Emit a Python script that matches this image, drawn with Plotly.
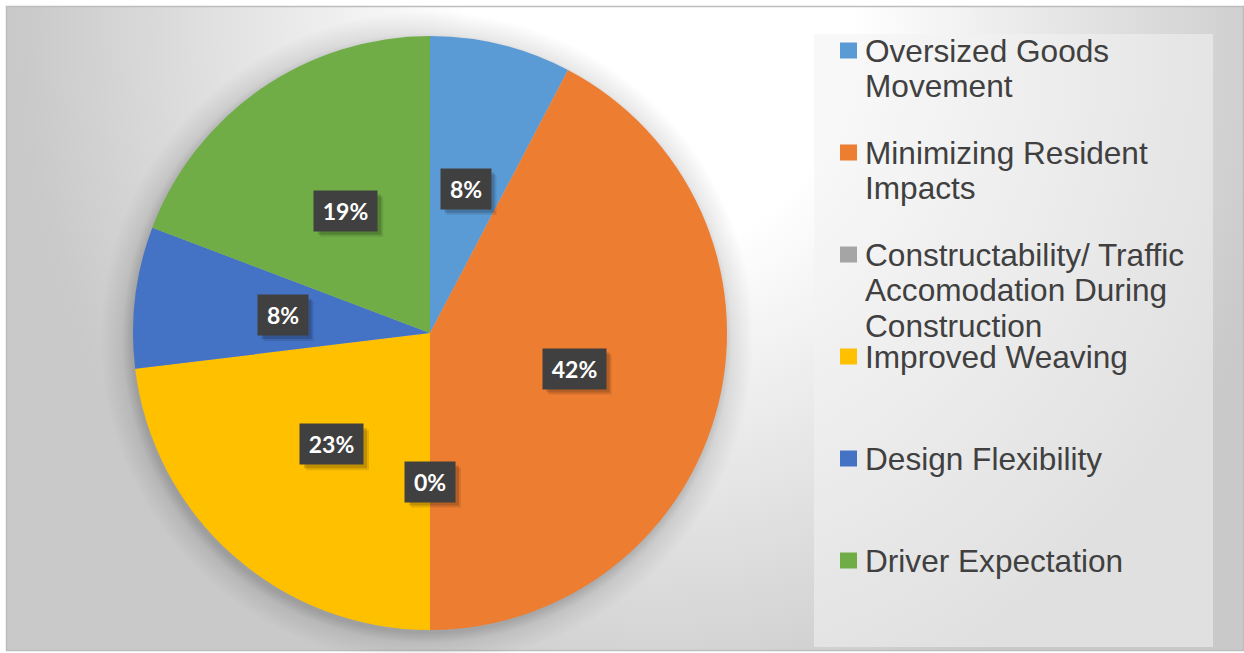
import base64
import math
import plotly.graph_objects as go

# ---------------- data ----------------
categories = [
    "Oversized Goods Movement",
    "Minimizing Resident Impacts",
    "Constructability/ Traffic Accomodation During Construction",
    "Improved Weaving",
    "Design Flexibility",
    "Driver Expectation",
]
legend_lines = [
    ["Oversized Goods", "Movement"],
    ["Minimizing Resident", "Impacts"],
    ["Constructability/ Traffic", "Accomodation During", "Construction"],
    ["Improved Weaving"],
    ["Design Flexibility"],
    ["Driver Expectation"],
]
values = [2, 11, 0, 6, 2, 5]
colors = ["#5B9BD5", "#ED7D31", "#A5A5A5", "#FFC000", "#4472C4", "#70AD47"]

# ---------------- geometry ----------------
W, H = 1244, 653
PCX, PCY, R = 430, 333, 297          # pie centre / radius in px
LEG_X0, LEG_Y0, LEG_X1, LEG_Y1 = 814, 34, 1213, 647
LEG_FIRST, LEG_STEP, LEG_LINE = 50.5, 102, 35.7
TXT = "#404040"

def px(x):
    return x / W

def py(y):
    return 1 - y / H

# ---------------- background (svg) ----------------
sh = R + 30
svg = f'''<svg xmlns="http://www.w3.org/2000/svg" width="{W}" height="{H}" viewBox="0 0 {W} {H}">
<defs>
<radialGradient id="bg" gradientUnits="userSpaceOnUse" cx="660" cy="30" r="640"
 gradientTransform="translate(660 30) scale(1 1.13) translate(-660 -30)">
<stop offset="0" stop-color="#ffffff"/>
<stop offset="0.3" stop-color="#ffffff"/>
<stop offset="1" stop-color="#c9c9c9"/>
</radialGradient>
<radialGradient id="sh" gradientUnits="userSpaceOnUse" cx="{PCX - 3}" cy="{PCY + 5}" r="{sh}">
<stop offset="{(R - 2) / sh:.4f}" stop-color="#000" stop-opacity="0.22"/>
<stop offset="{(R + 8) / sh:.4f}" stop-color="#000" stop-opacity="0.09"/>
<stop offset="1" stop-color="#000" stop-opacity="0"/>
</radialGradient>
</defs>
<rect x="0" y="0" width="{W}" height="{H}" fill="#ffffff"/>
<rect x="6.5" y="6.5" width="{W - 7}" height="{H - 9}" fill="url(#bg)" stroke="#bdbdbd" stroke-width="1.5"/>
<circle cx="{PCX - 3}" cy="{PCY + 5}" r="{sh}" fill="url(#sh)"/>
<rect x="{LEG_X0}" y="{LEG_Y0}" width="{LEG_X1 - LEG_X0}" height="{LEG_Y1 - LEG_Y0}" fill="#f2f2f2" fill-opacity="0.55"/>
</svg>'''
src = "data:image/svg+xml;base64," + base64.b64encode(svg.encode()).decode()

# ---------------- figure ----------------
fig = go.Figure()
fig.add_trace(go.Pie(
    labels=categories,
    values=values,
    sort=False,
    direction="clockwise",
    rotation=0,
    marker=dict(colors=colors, line=dict(width=0)),
    textinfo="none",
    showlegend=False,
    domain=dict(x=[px(PCX - R), px(PCX + R)], y=[py(PCY + R), py(PCY - R)]),
    hovertemplate="%{label}: %{percent}<extra></extra>",
))

annotations = []
shapes = []

# data labels (boxes at half radius, mid-angle)
total = sum(values)
cum = 0
lab_font = dict(family="Lato, Open Sans, sans-serif", size=23, color="white", weight="bold")
for v in values:
    mid = 2 * math.pi * (cum + v / 2) / total
    cum += v
    lx = PCX + 0.5 * R * math.sin(mid)
    ly = PCY - 0.5 * R * math.cos(mid)
    txt = f"{round(100 * v / total)}%"
    bw = 50 + 13 * (len(txt) - 2)     # approximate box width in px
    bh = 40
    # soft drop shadow behind the label box
    for off, alpha in ((6, 0.10), (4, 0.16)):
        shapes.append(dict(
            type="rect", xref="paper", yref="paper",
            xsizemode="pixel", ysizemode="pixel",
            xanchor=px(lx), yanchor=py(ly),
            x0=-bw / 2 + off, x1=bw / 2 + off, y0=-bh / 2 - off, y1=bh / 2 - off,
            fillcolor=f"rgba(0,0,0,{alpha})", line=dict(width=0), layer="above"))
    annotations.append(dict(
        x=px(lx), y=py(ly), xref="paper", yref="paper", text=txt, showarrow=False,
        font=lab_font, bgcolor="#404040", borderpad=6, width=bw - 12,
        xanchor="center", yanchor="middle", align="center"))

# legend (manual, for Office-like line spacing)
for i, (lines, col) in enumerate(zip(legend_lines, colors)):
    yc = LEG_FIRST + i * LEG_STEP
    shapes.append(dict(type="rect", xref="paper", yref="paper",
                       x0=px(840), x1=px(857), y0=py(yc - 8), y1=py(yc + 8),
                       fillcolor=col, line=dict(width=0), layer="above"))
    for j, ln in enumerate(lines):
        annotations.append(dict(
            x=px(863), y=py(yc + j * LEG_LINE), xref="paper", yref="paper",
            text=ln, showarrow=False, xanchor="left", yanchor="middle",
            font=dict(family="Liberation Sans, Arial, sans-serif", size=31.6, color=TXT)))

fig.update_layout(
    width=W, height=H,
    margin=dict(l=0, r=0, t=0, b=0),
    paper_bgcolor="white",
    plot_bgcolor="rgba(0,0,0,0)",
    images=[dict(source=src, xref="paper", yref="paper", x=0, y=1,
                 sizex=1, sizey=1, xanchor="left", yanchor="top",
                 sizing="stretch", layer="below")],
    annotations=annotations,
    shapes=shapes,
)

fig.write_html("out.html")
